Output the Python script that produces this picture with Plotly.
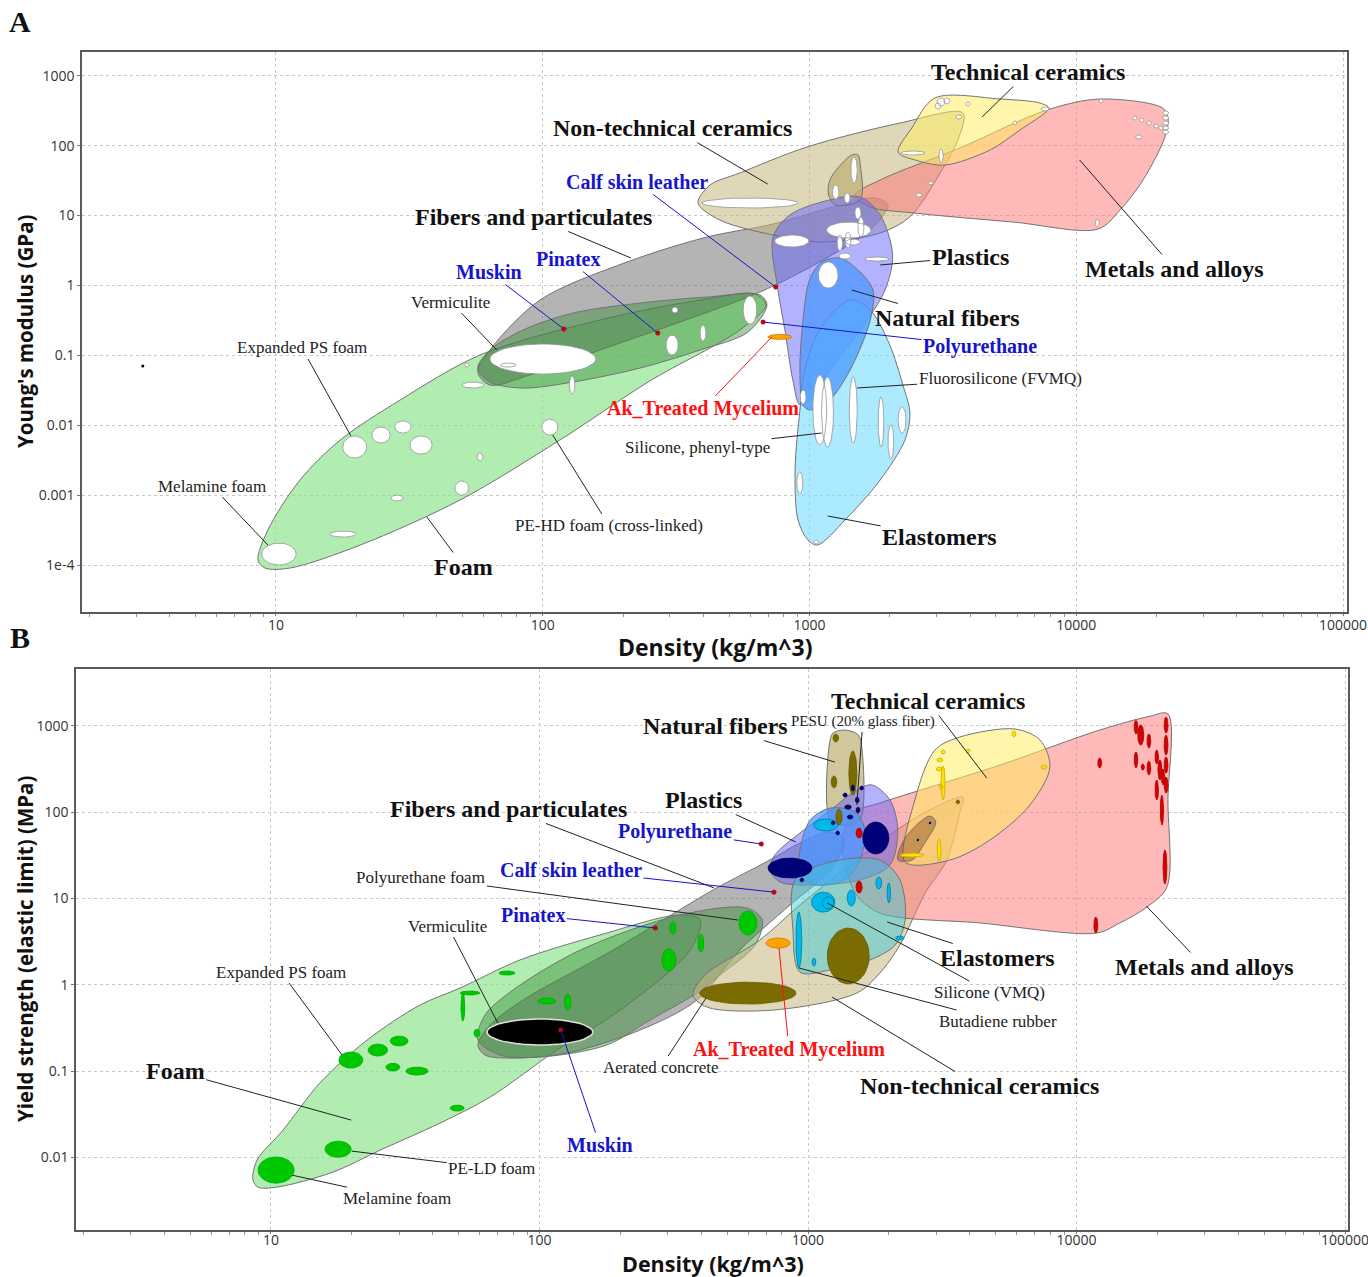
import math
import numpy as np
import plotly.graph_objects as go

# =====================================================================
# Panel A - Young's modulus (GPa) against density (kg/m^3)
# =====================================================================
# Family envelopes (outline vertices)
A_FOAM_RHO = [8.57, 9.33, 12.3, 17.4, 29.2, 58.2, 164, 389, 625, 687, 548, 252, 116, 49.0, 20.7, 11.3, 9.1]
A_FOAM_E = [1.18e-4, 3.17e-4, 1.64e-3, 6.12e-3, 0.0229, 0.101, 0.320, 0.618, 0.753, 0.524, 0.230,
            0.0429, 6.14e-3, 8.51e-4, 1.93e-4, 9.06e-5, 9.06e-5]

A_FIBERS_RHO = [57.1, 63.4, 97.7, 207, 413, 730, 1300, 1760, 1970, 1690, 1090, 652, 327, 164, 89.5, 63.4]
A_FIBERS_E = [0.0577, 0.119, 0.618, 2.16, 4.92, 7.55, 14.1, 17.8, 14.1, 6.21, 2.16, 0.803, 0.299, 0.119, 0.0523, 0.0376]

A_NATURAL_RHO = [57.1, 63.4, 84.3, 130, 232, 413, 652, 693, 588, 389, 232, 130, 84.3, 63.4]
A_NATURAL_E = [0.0658, 0.119, 0.230, 0.403, 0.560, 0.682, 0.728, 0.524, 0.215, 0.119, 0.0658, 0.0415, 0.0340, 0.0415]

A_NONTECH_RHO = [382, 424, 548, 979, 2180, 3760, 3600, 3090, 2380, 1840, 1120, 730, 461]
A_NONTECH_E = [15.1, 27.3, 40.6, 95.5, 210, 292, 120, 40.6, 9.57, 5.62, 4.18, 5.26, 8.63]

A_TECH_RHO = [2150, 2420, 2950, 5180, 7310, 7900, 6150, 4750, 3220, 2490]
A_TECH_E = [80.9, 179, 480, 464, 406, 345, 167, 86.5, 52.7, 62.2]

A_METAL_RHO = [1480, 1840, 3660, 7770, 12300, 21100, 22100, 21500, 17800, 14600, 12100, 5790, 2440, 1690]
A_METAL_E = [19.6, 32.2, 92.5, 323, 464, 345, 248, 133, 32.2, 12.0, 6.41, 8.07, 10.9, 13.2]

A_COLUMN_RHO = [1180, 1220, 1440, 1520, 1550, 1550, 1250, 1180]
A_COLUMN_E = [27.3, 37.9, 73.5, 73.5, 52.7, 16.7, 14.1, 19.6]

A_PLASTIC_RHO = [730, 845, 1190, 1550, 1840, 2050, 1920, 1550, 1190, 1000, 921, 866, 809, 762]
A_PLASTIC_E = [4.92, 10.2, 16.7, 18.4, 10.2, 2.72, 0.859, 0.230, 0.0617, 0.0230, 0.0195, 0.0443, 0.230, 0.859]

A_NATFIB_RHO = [946, 921, 946, 1000, 1110, 1300, 1520, 1730, 1690, 1420, 1190, 1000]
A_NATFIB_E = [0.0195, 0.0617, 0.320, 1.19, 2.16, 2.46, 1.66, 0.859, 0.320, 0.0617, 0.0230, 0.0165]

A_ELAST_RHO = [921, 883, 906, 987, 1070, 1360, 1840, 2280, 2380, 2240, 2000, 1690, 1420, 1090, 961]
A_ELAST_E = [0.0165, 2.29e-3, 4.41e-4, 2.28e-4, 1.93e-4, 4.41e-4, 1.64e-3, 6.14e-3, 0.0149, 0.0376,
             0.140, 0.445, 0.618, 0.230, 0.0617]

# Material grades: (density low, density high, modulus low, modulus high)
A_GRADES = [
    (8.85, 11.9, 1.00e-4, 2.06e-4), (15.9, 20.0, 2.51e-4, 3.06e-4), (27.0, 30.0, 8.24e-4, 1.00e-3),
    (17.8, 21.9, 3.40e-3, 7.00e-3), (22.9, 26.8, 5.57e-3, 9.42e-3), (27.9, 32.1, 7.73e-3, 0.0115),
    (31.8, 38.5, 3.87e-3, 7.02e-3), (46.9, 52.8, 1.00e-3, 1.59e-3), (56.8, 59.7, 3.08e-3, 4.00e-3),
    (99.3, 114, 7.24e-3, 0.0122), (126, 132, 0.0279, 0.0506), (49.9, 60.3, 0.0340, 0.0415),
    (63.4, 158, 0.0540, 0.145), (69.2, 79.4, 0.0679, 0.0776), (51.1, 52.9, 0.0679, 0.0776),
    (290, 322, 0.101, 0.195), (389, 409, 0.160, 0.271), (305, 321, 0.403, 0.491),
    (564, 635, 0.281, 0.705), (395, 906, 12.8, 17.8), (741, 995, 3.54, 5.26),
    (1160, 1700, 4.76, 8.05), (1080, 1280, 0.916, 2.16), (1610, 1990, 2.23, 2.55),
    (1220, 1290, 17.2, 27.3), (1430, 1510, 29.1, 68.5), (1350, 1420, 15.1, 21.0),
    (1480, 1560, 8.89, 13.2), (1270, 1330, 3.10, 5.25), (1360, 1430, 3.43, 5.79),
    (1520, 1600, 4.92, 9.51), (1370, 1550, 3.78, 4.60), (1290, 1430, 2.38, 2.90),
    (3010, 3220, 369, 480), (3190, 3360, 394, 480), (2960, 3110, 334, 407),
    (3860, 4000, 368, 421), (5790, 5990, 197, 225), (3540, 3720, 240, 274),
    (7380, 7910, 313, 357), (2200, 2710, 73.3, 83.8), (3060, 3170, 56.5, 89.5),
    (2780, 2920, 27.8, 30.6), (2510, 2640, 18.4, 21.0),
    (12200, 12600, 406, 464), (16300, 16900, 232, 265), (17300, 17900, 217, 248),
    (18400, 19100, 197, 225), (19600, 20300, 178, 204), (20400, 21200, 167, 191),
    (21100, 22200, 273, 313), (21100, 22200, 232, 266), (21100, 22200, 196, 225),
    (21100, 22200, 167, 191), (21100, 22200, 146, 168), (16700, 17600, 124, 142),
    (11800, 12200, 6.85, 8.91),
    (1030, 1160, 5.22e-3, 0.0522), (1110, 1230, 4.89e-3, 0.0489), (1410, 1510, 5.57e-3, 0.0490),
    (1810, 1900, 4.88e-3, 0.0254), (1970, 2070, 3.29e-3, 0.0101), (2150, 2300, 7.73e-3, 0.0182),
    (897, 944, 1.04e-3, 2.14e-3), (923, 971, 0.0201, 0.0319), (1040, 1080, 2.00e-4, 2.28e-4),
]
A_STRAY_RHO = [3.17]
A_STRAY_E = [0.0703]

# =====================================================================
# Panel B - Yield strength (MPa) against density (kg/m^3)
# =====================================================================
B_FOAM_RHO = [8.57, 8.87, 11.1, 15.2, 22.8, 35.9, 50.6, 84.5, 168, 333, 396, 364, 200, 116, 65.5, 42.6, 25.5, 17.0, 10.5, 8.95]
B_FOAM_S = [5.44e-3, 9.27e-3, 0.0207, 0.0724, 0.228, 0.581, 0.914, 1.93, 3.77, 6.43, 5.62, 2.52, 0.508,
            0.175, 0.0499, 0.0249, 0.0121, 6.73e-3, 4.51e-3, 4.51e-3]

B_FIBERS_RHO = [59.0, 65.5, 86.9, 188, 443, 721, 933, 1210, 1370, 1210, 857, 558, 386, 237, 126, 77.6, 62.7]
B_FIBERS_S = [0.200, 0.340, 0.664, 2.52, 12.5, 27.8, 43.8, 58.7, 47.4, 21.3, 8.38, 2.52, 0.664, 0.298, 0.161, 0.141, 0.153]

B_NATURAL_RHO = [59.0, 62.7, 79.6, 142, 333, 593, 675, 635, 470, 386, 258, 178, 100, 71.3]
B_NATURAL_S = [0.228, 0.445, 0.865, 2.52, 6.41, 7.73, 5.61, 2.88, 1.29, 0.800, 0.389, 0.200, 0.145, 0.153]

B_NONTECH_RHO = [373, 413, 662, 933, 1430, 2140, 2840, 3780, 3680, 3290, 2730, 2200, 1850, 1520, 741, 421]
B_NONTECH_S = [0.757, 1.29, 3.29, 8.38, 24.3, 61.9, 106, 149, 100, 27.8, 11.5, 2.88, 1.36, 0.800, 0.508, 0.550]

B_TECH_RHO = [2970, 3680, 5900, 7310, 7960, 6710, 4760, 3380, 2300, 2500]
B_TECH_S = [523, 740, 916, 682, 333, 121, 47.4, 27.8, 26.4, 138]

B_METAL_RHO = [1340, 1500, 1850, 5190, 12200, 18800, 21900, 21900, 21700, 18300, 14500, 11900, 4380, 1850, 1500]
B_METAL_S = [47.4, 100, 127, 350, 891, 1290, 1370, 138, 13.5, 7.94, 5.19, 3.97, 5.19, 6.78, 11.5]

B_COMPOSITE_RHO = [2840, 2990, 2720, 2440, 2160, 2300]
B_COMPOSITE_S = [89.9, 76.6, 43.8, 27.8, 27.8, 50.0]

B_COLUMN_RHO = [1200, 1240, 1370, 1540, 1590, 1560, 1370, 1210]
B_COLUMN_S = [597, 823, 891, 780, 523, 80.7, 70.6, 80.7]

B_PLASTIC_RHO = [721, 753, 933, 1210, 1520, 1730, 2020, 2160, 2020, 1560, 1040, 787]
B_PLASTIC_S = [21.3, 31.8, 57.1, 105, 180, 206, 138, 61.9, 24.3, 16.3, 14.3, 15.5]

B_BLUE_RHO = [933, 1020, 1210, 1500, 1630, 1560, 1370, 1060, 933]
B_BLUE_S = [36.3, 80.9, 111, 100, 61.9, 27.8, 16.3, 14.3, 18.6]

B_ELAST_RHO = [895, 1210, 1850, 2200, 2300, 2110, 1700, 1210, 933, 879]
B_ELAST_S = [16.3, 26.4, 27.8, 16.3, 5.61, 2.88, 1.93, 1.48, 1.40, 4.30]

# Material grades: (density low, density high, strength low, strength high)
B_FOAM_GRADES = [
    (8.95, 12.2, 5.02e-3, 0.0101), (15.9, 19.9, 0.0100, 0.0154), (17.9, 22.0, 0.108, 0.166),
    (23.0, 27.2, 0.149, 0.205), (27.8, 32.4, 0.195, 0.254), (26.8, 30.2, 0.0998, 0.123),
    (31.8, 38.5, 0.0897, 0.111), (46.5, 52.4, 0.0343, 0.0403), (70.6, 81.1, 1.29, 1.44),
    (50.6, 60.0, 0.759, 0.844), (51.0, 52.7, 0.379, 0.800), (57.0, 60.0, 0.247, 0.305),
    (98.8, 115, 0.596, 0.700), (124, 131, 0.508, 0.780), (286, 322, 1.44, 2.59),
    (306, 322, 3.86, 5.32), (389, 409, 2.39, 3.85), (553, 645, 3.76, 7.13),
]
B_MUSKIN_GRADE = [(63.8, 158, 0.200, 0.400)]
B_OLIVE_GRADES = [
    (395, 902, 0.596, 1.07), (1180, 1690, 1.02, 4.53), (1240, 1300, 647, 800), (1220, 1280, 190, 262),
    (1420, 1520, 157, 509), (1270, 1340, 70.6, 108), (3560, 3670, 124, 138),
]
B_CYAN_GRADES = [
    (902, 948, 1.56, 6.93), (1035, 1070, 1.64, 2.03), (1050, 1290, 60.3, 83.0), (1030, 1260, 6.93, 11.8),
    (1130, 1250, 7.52, 10.4), (1400, 1500, 8.15, 12.5), (1790, 1880, 12.8, 17.7), (1970, 2030, 8.83, 15.1),
    (2120, 2280, 3.29, 3.66),
]
B_NAVY_GRADES = [
    (710, 1035, 17.2, 29.3), (1600, 2000, 32.7, 76.6), (1450, 1490, 175, 206), (1350, 1400, 149, 166),
    (1500, 1550, 127, 149), (1370, 1450, 108, 121), (1510, 1560, 97.3, 114), (1400, 1470, 83.0, 92.3),
    (1220, 1260, 70.8, 78.7), (1270, 1310, 54.2, 60.3), (933, 964, 15.5, 17.2), (1560, 1610, 180, 200),
]
B_RED_GRADES = [
    (1510, 1590, 50.0, 65.3), (1510, 1590, 11.5, 15.9), (12000, 12400, 324, 423), (16400, 16900, 802, 1160),
    (16900, 17800, 597, 1020), (18300, 18900, 552, 802), (16400, 16900, 324, 497), (17400, 17900, 306, 360),
    (18300, 18900, 269, 390), (19600, 20200, 360, 523), (20100, 20800, 235, 401), (20700, 21300, 206, 316),
    (19600, 20200, 138, 235), (20500, 21100, 70.6, 157), (21200, 21900, 822, 1260), (21200, 21900, 457, 780),
    (21200, 21900, 283, 435), (21200, 21900, 166, 255), (21000, 21700, 14.7, 36.3), (11600, 12000, 3.96, 6.08),
]
B_YELLOW_GRADES = [
    (3130, 3240, 470, 523), (3020, 3180, 380, 423), (3000, 3160, 299, 332), (3080, 3180, 185, 206),
    (3880, 4010, 483, 537), (5750, 5940, 740, 869), (7380, 7760, 315, 350), (3130, 3240, 138, 341),
    (3030, 3130, 27.0, 48.6), (2200, 2700, 30.1, 33.5),
]
B_DOT_GRADES = [(2800, 2890, 70.8, 78.7), (2520, 2610, 45.0, 50.0)]

# Highlighted materials (shared density, modulus in A, strength in B)
HL_NAMES = ["Muskin", "Pinatex", "Calf skin leather", "Polyurethane"]
HL_RHO = [120, 270, 747, 670]
HL_E = [0.238, 0.208, 0.948, 0.299]
HL_S = [0.298, 4.53, 11.8, 42.6]
MYC_RHO = (698, 858)
MYC_E = (0.169, 0.199)
MYC_S = (2.65, 3.47)

# ---------------------------------------------------------------------
EDGE = "rgb(115,115,115)"
FILL = {
    "foam": "rgba(140,228,140,0.68)",
    "fibers": "rgba(105,105,105,0.50)",
    "natural": "rgba(55,140,55,0.45)",
    "nontech": "rgba(196,182,125,0.55)",
    "tech": "rgba(255,238,95,0.52)",
    "metal": "rgba(255,115,115,0.50)",
    "column": "rgba(190,175,115,0.70)",
    "plastic": "rgba(95,95,255,0.48)",
    "natfib": "rgba(70,150,255,0.72)",
    "elast": "rgba(115,220,255,0.60)",
    "elast_b": "rgba(60,200,215,0.48)",
    "composite": "rgba(130,60,20,0.40)",
}


def ellipse_path(rho_lo, rho_hi, v_lo, v_hi, n=44):
    cx = (math.log10(rho_lo) + math.log10(rho_hi)) / 2
    rx = (math.log10(rho_hi) - math.log10(rho_lo)) / 2
    cy = (math.log10(v_lo) + math.log10(v_hi)) / 2
    ry = (math.log10(v_hi) - math.log10(v_lo)) / 2
    t = np.linspace(0, 2 * np.pi, n)
    return list(10 ** (cx + rx * np.cos(t))), list(10 ** (cy + ry * np.sin(t)))


def bubbles(grades, fill, edge, xa, ya, width=0.8):
    xs, ys = [], []
    for g in grades:
        x, y = ellipse_path(*g)
        xs += x + [None]
        ys += y + [None]
    return go.Scatter(x=xs, y=ys, mode="lines", fill="toself", fillcolor=fill,
                      line=dict(color=edge, width=width), xaxis=xa, yaxis=ya,
                      hoverinfo="skip", showlegend=False)


def envelope(rho, val, key, xa, ya):
    return go.Scatter(x=list(rho) + [rho[0]], y=list(val) + [val[0]], mode="lines",
                      fill="toself", fillcolor=FILL[key],
                      line=dict(color=EDGE, width=1, shape="spline", smoothing=0.9),
                      xaxis=xa, yaxis=ya, hoverinfo="skip", showlegend=False)


fig = go.Figure()

# ---- panel A traces
for rho, val, key in [
    (A_FOAM_RHO, A_FOAM_E, "foam"), (A_FIBERS_RHO, A_FIBERS_E, "fibers"),
    (A_NATURAL_RHO, A_NATURAL_E, "natural"), (A_NONTECH_RHO, A_NONTECH_E, "nontech"),
    (A_METAL_RHO, A_METAL_E, "metal"), (A_TECH_RHO, A_TECH_E, "tech"),
    (A_COLUMN_RHO, A_COLUMN_E, "column"), (A_PLASTIC_RHO, A_PLASTIC_E, "plastic"),
    (A_ELAST_RHO, A_ELAST_E, "elast"), (A_NATFIB_RHO, A_NATFIB_E, "natfib"),
]:
    fig.add_trace(envelope(rho, val, key, "x", "y"))
fig.add_trace(bubbles(A_GRADES, "white", "rgb(150,150,150)", "x", "y"))
fig.add_trace(bubbles([(MYC_RHO[0], MYC_RHO[1], MYC_E[0], MYC_E[1])], "rgb(255,165,0)",
                      "rgb(210,110,0)", "x", "y"))
fig.add_trace(go.Scatter(x=HL_RHO, y=HL_E, mode="markers", xaxis="x", yaxis="y",
                         marker=dict(size=4.5, color="rgb(225,0,0)", line=dict(color="rgb(150,0,0)", width=0.5)),
                         hoverinfo="skip", showlegend=False))
fig.add_trace(go.Scatter(x=A_STRAY_RHO, y=A_STRAY_E, mode="markers", xaxis="x", yaxis="y",
                         marker=dict(size=3, color="black"), hoverinfo="skip", showlegend=False))

# ---- panel B traces
for rho, val, key in [
    (B_FOAM_RHO, B_FOAM_S, "foam"), (B_FIBERS_RHO, B_FIBERS_S, "fibers"),
    (B_NATURAL_RHO, B_NATURAL_S, "natural"), (B_NONTECH_RHO, B_NONTECH_S, "nontech"),
    (B_METAL_RHO, B_METAL_S, "metal"), (B_TECH_RHO, B_TECH_S, "tech"),
    (B_COMPOSITE_RHO, B_COMPOSITE_S, "composite"), (B_COLUMN_RHO, B_COLUMN_S, "column"),
    (B_PLASTIC_RHO, B_PLASTIC_S, "plastic"), (B_BLUE_RHO, B_BLUE_S, "natfib"),
    (B_ELAST_RHO, B_ELAST_S, "elast_b"),
]:
    fig.add_trace(envelope(rho, val, key, "x2", "y2"))
fig.add_trace(bubbles(B_FOAM_GRADES, "rgb(0,200,0)", "rgb(0,170,0)", "x2", "y2"))
fig.add_trace(bubbles(B_MUSKIN_GRADE, "black", "rgb(225,225,225)", "x2", "y2", width=1.5))
fig.add_trace(bubbles(B_OLIVE_GRADES, "rgb(122,108,0)", "rgb(100,90,0)", "x2", "y2"))
fig.add_trace(bubbles(B_CYAN_GRADES, "rgb(0,185,235)", "rgb(0,120,160)", "x2", "y2"))
fig.add_trace(bubbles(B_NAVY_GRADES, "rgb(0,0,120)", "rgb(0,0,90)", "x2", "y2"))
fig.add_trace(bubbles(B_RED_GRADES, "rgb(215,0,0)", "rgb(170,0,0)", "x2", "y2"))
fig.add_trace(bubbles(B_YELLOW_GRADES, "rgb(255,225,0)", "rgb(200,170,0)", "x2", "y2"))
fig.add_trace(bubbles(B_DOT_GRADES, "white", "rgb(120,120,120)", "x2", "y2"))
fig.add_trace(go.Scatter(x=[math.sqrt(g[0] * g[1]) for g in B_DOT_GRADES],
                         y=[math.sqrt(g[2] * g[3]) for g in B_DOT_GRADES], mode="markers",
                         xaxis="x2", yaxis="y2", marker=dict(size=2.5, color="black"),
                         hoverinfo="skip", showlegend=False))
fig.add_trace(bubbles([(MYC_RHO[0], MYC_RHO[1], MYC_S[0], MYC_S[1])], "rgb(255,165,0)",
                      "rgb(210,110,0)", "x2", "y2"))
fig.add_trace(go.Scatter(x=HL_RHO, y=HL_S, mode="markers", xaxis="x2", yaxis="y2",
                         marker=dict(size=4.5, color="rgb(225,0,0)", line=dict(color="rgb(150,0,0)", width=0.5)),
                         hoverinfo="skip", showlegend=False))

# ---------------------------------------------------------------------
# Labels: (text, anchor density, anchor value, text offset px, style)
STYLE = {
    "family": dict(size=24, color="#111111", bold=True),
    "grade": dict(size=17, color="#222222", bold=False),
    "blue": dict(size=20, color="#1515cc", bold=True),
    "red": dict(size=20, color="#ff1010", bold=True),
    "small": dict(size=15, color="#222222", bold=False),
}
A_LABELS = [
    ("Technical ceramics", 4440, 257, 46, -45, "family"),
    ("Non-technical ceramics", 698, 28.1, -95, -56, "family"),
    ("Fibers and particulates", 214, 2.47, -97, -41, "family"),
    ("Vermiculite", 67.3, 0.119, -46, -48, "grade"),
    ("Expanded PS foam", 19.1, 7.02e-3, -49, -88, "grade"),
    ("Plastics", 1840, 1.96, 90, -8, "family"),
    ("Metals and alloys", 10300, 62.1, 95, 109, "family"),
    ("Natural fibers", 1440, 0.859, 96, 28, "family"),
    ("Fluorosilicone (FVMQ)", 1510, 0.0341, 143, -9, "grade"),
    ("Ak_Treated Mycelium", 723, 0.183, -69, 72, "red"),
    ("Silicone, phenyl-type", 1110, 7.73e-3, -124, 14, "grade"),
    ("Melamine foam", 9.33, 1.93e-4, -56, -59, "grade"),
    ("PE-HD foam (cross-linked)", 109, 7.24e-3, 56, 90, "grade"),
    ("Elastomers", 1170, 5.03e-4, 112, 21, "family"),
    ("Foam", 36.8, 4.86e-4, 37, 50, "family"),
]
A_HL_OFFSETS = [(-75, -57), (-90, -74), (-139, -105), (217, 24)]

B_LABELS = [
    ("Technical ceramics", 4630, 248, -59, -77, "family"),
    ("Natural fibers", 1260, 379, -119, -36, "family"),
    ("PESU (20% glass fiber)", 1520, 121, 6, -83, "small"),
    ("Fibers and particulates", 447, 13.2, -206, -79, "family"),
    ("Plastics", 902, 44.9, -92, -42, "family"),
    ("Polyurethane foam", 548, 5.61, -317, -43, "grade"),
    ("Vermiculite", 70.0, 0.359, -50, -97, "grade"),
    ("Expanded PS foam", 18.4, 0.153, -61, -83, "grade"),
    ("Foam", 19.9, 0.0270, -176, -49, "family"),
    ("Elastomers", 1970, 5.32, 110, 36, "family"),
    ("Metals and alloys", 18200, 8.15, 58, 61, "family"),
    ("Silicone (VMQ)", 1180, 8.83, 162, 89, "grade"),
    ("Butadiene rubber", 925, 1.56, 199, 53, "grade"),
    ("Ak_Treated Mycelium", 780, 2.64, 10, 101, "red"),
    ("Aerated concrete", 417, 0.700, -45, 69, "grade"),
    ("Non-technical ceramics", 1230, 0.718, 147, 89, "family"),
    ("PE-LD foam", 20.0, 0.0118, 140, 17, "grade"),
    ("Melamine foam", 12.0, 6.21e-3, 105, 23, "grade"),
]
B_HL_OFFSETS = [(39, 115), (-122, -13), (-203, -22), (-86, -13)]

annotations = []


def add_label(text, rho, val, ax, ay, style, xref, yref):
    s = STYLE[style]
    annotations.append(dict(
        x=math.log10(rho), y=math.log10(val), xref=xref, yref=yref,
        text=f"<b>{text}</b>" if s["bold"] else text, showarrow=True, arrowhead=0,
        arrowwidth=1, arrowcolor=s["color"] if style in ("blue", "red") else "#222222",
        ax=ax, ay=ay, standoff=0, startstandoff=0,
        font=dict(family="Liberation Serif", size=s["size"], color=s["color"]),
    ))


for t, r, v, ax, ay, st in A_LABELS:
    add_label(t, r, v, ax, ay, st, "x", "y")
for name, r, v, (ax, ay) in zip(HL_NAMES, HL_RHO, HL_E, A_HL_OFFSETS):
    add_label(name, r, v, ax, ay, "blue", "x", "y")
for t, r, v, ax, ay, st in B_LABELS:
    add_label(t, r, v, ax, ay, st, "x2", "y2")
for name, r, v, (ax, ay) in zip(HL_NAMES, HL_RHO, HL_S, B_HL_OFFSETS):
    add_label(name, r, v, ax, ay, "blue", "x2", "y2")

W, H = 1368, 1277


def paper_text(text, px, py, size, family, angle=0):
    annotations.append(dict(x=px / W, y=1 - py / H, xref="paper", yref="paper", text=text,
                            xanchor="center", yanchor="middle", showarrow=False, textangle=angle,
                            font=dict(family=family, size=size, color="#111111")))


# panel letters and axis titles
paper_text("<b>A</b>", 20, 22, 30, "Liberation Serif")
paper_text("<b>B</b>", 20, 638, 30, "Liberation Serif")
paper_text("<b>Density (kg/m^3)</b>", 715, 647, 23, "Open Sans")
paper_text("<b>Density (kg/m^3)</b>", 713, 1263, 21.5, "Open Sans")
paper_text("<b>Young's modulus (GPa)</b>", 25, 331, 20.5, "Open Sans", -90)
paper_text("<b>Yield strength (elastic limit) (MPa)</b>", 25, 949, 20.5, "Open Sans", -90)

# ---------------------------------------------------------------------
X_TICKS = [10, 100, 1000, 10000, 100000]
X_MINOR = [m * 10 ** k for k in range(0, 5) for m in range(2, 10)]
A_Y_TICKS = [1e-4, 1e-3, 0.01, 0.1, 1, 10, 100, 1000]
A_Y_TEXT = ["1e-4", "0.001", "0.01", "0.1", "1", "10", "100", "1000"]
B_Y_TICKS = [0.01, 0.1, 1, 10, 100, 1000]
B_Y_TEXT = ["0.01", "0.1", "1", "10", "100", "1000"]

TICK_FONT = dict(family="Open Sans", size=14, color="#333333")


def x_axis(domain, rng, anchor, label_shift):
    return dict(type="log", domain=domain, range=rng, anchor=anchor, automargin=False,
                tickvals=X_TICKS, ticktext=[str(v) for v in X_TICKS], ticklabeloverflow="allow",
                showgrid=True, gridcolor="rgb(200,200,200)", griddash="dot", gridwidth=1,
                showline=True, linecolor="rgb(90,90,90)", linewidth=1.5, mirror=True,
                ticks="outside", ticklen=2, tickcolor="rgb(120,120,120)", ticklabelstandoff=label_shift,
                minor=dict(tickvals=X_MINOR, ticks="outside", ticklen=3, tickcolor="rgb(150,150,150)", showgrid=False),
                tickfont=TICK_FONT, zeroline=False)


def y_axis(domain, rng, anchor, tv, tt):
    return dict(type="log", domain=domain, range=rng, anchor=anchor, automargin=False,
                tickvals=tv, ticktext=tt, ticklabeloverflow="allow",
                showgrid=True, gridcolor="rgb(200,200,200)", griddash="dot", gridwidth=1,
                showline=True, linecolor="rgb(90,90,90)", linewidth=1.5, mirror=True,
                ticks="outside", ticklen=3, tickcolor="rgb(120,120,120)",
                tickfont=TICK_FONT, zeroline=False)


fig.update_layout(
    width=W, height=H, margin=dict(l=0, r=0, t=0, b=0, autoexpand=False),
    paper_bgcolor="white", plot_bgcolor="white", showlegend=False,
    xaxis=x_axis([82 / W, 1347 / W], [0.273, 5.015], "y", -3),
    yaxis=y_axis([1 - 612 / H, 1 - 52 / H], [-4.672, 3.339], "x", A_Y_TICKS, A_Y_TEXT),
    xaxis2=x_axis([76 / W, 1348 / W], [0.274, 5.011], "y2", -6),
    yaxis2=y_axis([1 - 1230 / H, 1 - 669 / H], [-2.842, 3.657], "x2", B_Y_TICKS, B_Y_TEXT),
    annotations=annotations,
)

fig.write_html("out.html")
